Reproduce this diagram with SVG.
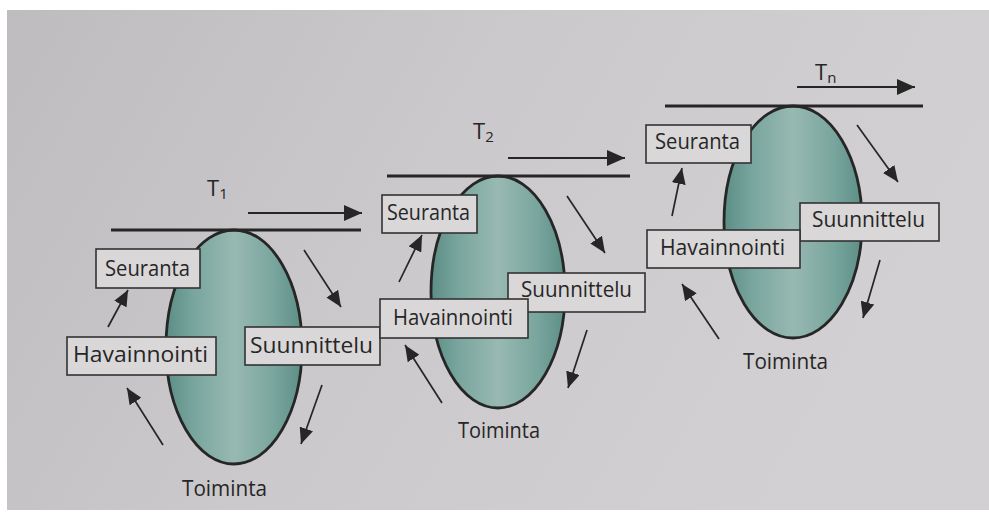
<svg xmlns="http://www.w3.org/2000/svg" width="989" height="516" viewBox="0 0 989 516">
<defs>
  <linearGradient id="paper" x1="0" y1="0" x2="1" y2="0.3">
    <stop offset="0" stop-color="#bebcbe"/>
    <stop offset="0.5" stop-color="#cbc9cb"/>
    <stop offset="1" stop-color="#d2d0d2"/>
  </linearGradient>
  <linearGradient id="teal" x1="0" y1="0" x2="1" y2="0">
    <stop offset="0" stop-color="#5c8e86"/>
    <stop offset="0.2" stop-color="#78a59d"/>
    <stop offset="0.5" stop-color="#98b9b2"/>
    <stop offset="0.8" stop-color="#78a59d"/>
    <stop offset="1" stop-color="#5d8f87"/>
  </linearGradient>
  <marker id="ah" viewBox="0 0 16 14" refX="16" refY="7" markerWidth="16" markerHeight="14" markerUnits="userSpaceOnUse" orient="auto">
    <path d="M0,0 L16,7 L0,14 z" fill="#262626"/>
  </marker>
  <marker id="ahT" viewBox="0 0 18 16" refX="18" refY="8" markerWidth="18" markerHeight="16" markerUnits="userSpaceOnUse" orient="auto">
    <path d="M0,0 L18,8 L0,16 z" fill="#262626"/>
  </marker>
</defs>
<style>
  .ell { fill: url(#teal); stroke: #262626; stroke-width: 2.8; }
  .box { fill: #d9d7d8; stroke: #333333; stroke-width: 1.6; }
  .lbl { font-family: "Open Sans", "Liberation Sans", sans-serif; font-size: 21px; fill: #262626; }
  .tl { font-family: "Open Sans", "Liberation Sans", sans-serif; font-size: 22px; fill: #262626; }
  .tline { stroke: #262626; stroke-width: 3; }
  .arr { stroke: #262626; stroke-width: 1.7; marker-end: url(#ah); fill: none; }
  .tarr { stroke: #262626; stroke-width: 2; marker-end: url(#ahT); fill: none; }
</style>
<rect x="0" y="0" width="989" height="516" fill="#ffffff"/>
<rect x="7" y="10" width="982" height="500" fill="url(#paper)"/>

<!-- ellipses -->
<g id="cycle1"><ellipse class="ell" cx="234" cy="347" rx="68" ry="117"/></g>
<g id="cycle2"><ellipse class="ell" cx="498" cy="292" rx="67" ry="116"/></g>
<g id="cycle3"><ellipse class="ell" cx="793" cy="222" rx="69" ry="116"/></g>

<!-- time labels -->
<g id="t1"><text class="tl" x="207" y="196">T<tspan font-size="15" dy="3">1</tspan></text></g>
<g id="t2"><text class="tl" x="473" y="139">T<tspan font-size="15" dy="3">2</tspan></text></g>
<g id="tn"><text class="tl" x="815" y="80">T<tspan font-size="15" dy="3">n</tspan></text></g>

<!-- connectors -->
<g id="connectors">
  <line class="tline" x1="111" y1="230" x2="361" y2="230"/>
  <line class="tline" x1="387" y1="176" x2="630" y2="176"/>
  <line class="tline" x1="665" y1="106" x2="923" y2="106"/>
  <line class="tarr" x1="248" y1="213" x2="362" y2="213"/>
  <line class="tarr" x1="508" y1="158" x2="625" y2="158"/>
  <line class="tarr" x1="797" y1="87" x2="915" y2="87"/>
  <line class="arr" x1="108" y1="327" x2="128" y2="290"/>
  <line class="arr" x1="163" y1="445" x2="127" y2="388"/>
  <line class="arr" x1="304" y1="250" x2="341" y2="307"/>
  <line class="arr" x1="322" y1="385" x2="301" y2="444"/>
  <line class="arr" x1="399" y1="282" x2="422" y2="235"/>
  <line class="arr" x1="442" y1="403" x2="405" y2="345"/>
  <line class="arr" x1="567" y1="196" x2="605" y2="253"/>
  <line class="arr" x1="587" y1="330" x2="568" y2="388"/>
  <line class="arr" x1="672" y1="216" x2="682" y2="168"/>
  <line class="arr" x1="719" y1="339" x2="682" y2="284"/>
  <line class="arr" x1="857" y1="125" x2="898" y2="182"/>
  <line class="arr" x1="880" y1="260" x2="863" y2="318"/>
</g>

<!-- cycle 1 boxes -->
<g id="seuranta1"><rect class="box" x="96" y="249" width="104" height="39"/><text class="lbl" x="105" y="276" textLength="85" lengthAdjust="spacingAndGlyphs">Seuranta</text></g>
<g id="havainnointi1"><rect class="box" x="67" y="337" width="149" height="38"/><text class="lbl" x="73" y="362" textLength="135" lengthAdjust="spacingAndGlyphs">Havainnointi</text></g>
<g id="suunnittelu1"><rect class="box" x="245" y="327" width="135" height="38"/><text class="lbl" x="250" y="353" textLength="123" lengthAdjust="spacingAndGlyphs">Suunnittelu</text></g>
<g id="toiminta1"><text class="lbl" x="182" y="496" textLength="85" lengthAdjust="spacingAndGlyphs">Toiminta</text></g>

<!-- cycle 2 boxes -->
<g id="seuranta2"><rect class="box" x="382" y="195" width="95" height="38"/><text class="lbl" x="387" y="220" textLength="83" lengthAdjust="spacingAndGlyphs">Seuranta</text></g>
<g id="suunnittelu2"><rect class="box" x="508" y="273" width="137" height="39"/><text class="lbl" x="521" y="297" textLength="111" lengthAdjust="spacingAndGlyphs">Suunnittelu</text></g>
<g id="havainnointi2"><rect class="box" x="380" y="299" width="148" height="39"/><text class="lbl" x="393" y="325" textLength="120" lengthAdjust="spacingAndGlyphs">Havainnointi</text></g>
<g id="toiminta2"><text class="lbl" x="458" y="438" textLength="82" lengthAdjust="spacingAndGlyphs">Toiminta</text></g>

<!-- cycle 3 boxes -->
<g id="seuranta3"><rect class="box" x="646" y="125" width="105" height="38"/><text class="lbl" x="655" y="149" textLength="85" lengthAdjust="spacingAndGlyphs">Seuranta</text></g>
<g id="suunnittelu3"><rect class="box" x="800" y="203" width="139" height="38"/><text class="lbl" x="812" y="227" textLength="113" lengthAdjust="spacingAndGlyphs">Suunnittelu</text></g>
<g id="havainnointi3"><rect class="box" x="647" y="230" width="153" height="38"/><text class="lbl" x="660" y="255" textLength="125" lengthAdjust="spacingAndGlyphs">Havainnointi</text></g>
<g id="toiminta3"><text class="lbl" x="743" y="369" textLength="85" lengthAdjust="spacingAndGlyphs">Toiminta</text></g>
</svg>
